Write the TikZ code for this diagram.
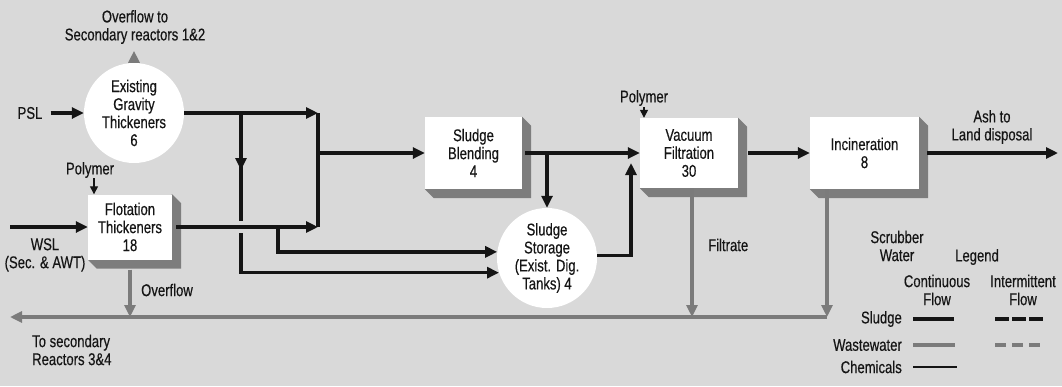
\documentclass[tikz,border=0pt]{standalone}
\usepackage{fontspec}
\setmainfont{Liberation Sans}[FakeStretch=0.77,FakeBold=0.4]
\usepackage{xcolor}
\usepackage{tikz}
\usetikzlibrary{arrows.meta,positioning,calc,backgrounds}
\definecolor{paper}{HTML}{D9D9D9}
\definecolor{wwgrey}{HTML}{7B7B7B}
\definecolor{extrude}{HTML}{7D7D7D}
\definecolor{ink}{HTML}{151515}

\begin{document}
\begin{tikzpicture}[x=1pt,y=-1pt,
  every node/.style={font=\fontsize{17}{18}\selectfont,text=ink},
  box/.style={rectangle,fill=white,align=center,inner sep=0pt},
  tank/.style={circle,fill=white,minimum size=100pt,align=center,inner sep=0pt},
  lbl/.style={align=center,inner sep=1pt},
  sl/.style={-{Triangle[length=12pt,width=11pt]},line width=3.6pt,draw=ink},
  slp/.style={line width=3.6pt,draw=ink},
  ww/.style={-{Triangle[length=12pt,width=11pt]},line width=3.6pt,draw=wwgrey},
  wwp/.style={line width=3.6pt,draw=wwgrey},
  chem/.style={-{Triangle[length=8pt,width=8pt]},line width=1.3pt,draw=ink}]
% process units
\node[tank] (grav) at (134,113) {Existing\\Gravity\\Thickeners\\6};
\node[box,minimum width=84pt,minimum height=65pt] (flot) at (130,227) {Flotation\\Thickeners\\18};
\node[box,minimum width=97pt,minimum height=72pt] (blend) at (473.5,153) {Sludge\\Blending\\4};
\node[tank] (stor) at (547,258) {Sludge\\Storage\\(Exist. Dig.\\Tanks) 4};
\node[box,minimum width=98pt,minimum height=70pt] (vac) at (689,153) {Vacuum\\Filtration\\30};
\node[box,minimum width=109pt,minimum height=72pt] (inc) at (864.5,153) {Incineration\\8};
% labels
\node[lbl] (ovtop) at (135,27) {Overflow to\\Secondary reactors 1\&2};
\node[lbl] (psl) at (30,113) {PSL};
\node[lbl] (wsl) at (45,255) {WSL\\(Sec. \& AWT)};
\node[lbl] (polyA) at (90,170) {Polymer};
\node[lbl] (polyB) at (644,98) {Polymer};
\node[lbl] (ash) at (992,127) {Ash to\\Land disposal};
\node[lbl] (ovf) at (167,290) {Overflow};
\node[lbl,anchor=west] (filt) at (707,245) {Filtrate};
\node[lbl] (scrub) at (897,246) {Scrubber\\Water};
\node[lbl,align=left,anchor=west] (tosec) at (31,350) {To secondary\\Reactors 3\&4};
% legend
\node[lbl] (leg) at (977,257) {Legend};
\node[lbl] (cont) at (937,290) {Continuous\\Flow};
\node[lbl] (inter) at (1023,290) {Intermittent\\Flow};
\node[lbl,anchor=east] (lgS) at (903,319) {Sludge};
\node[lbl,anchor=east] (lgW) at (903,345) {Wastewater};
\node[lbl,anchor=east] (lgC) at (903,367) {Chemicals};
% junctions
\coordinate (jA) at (241,113);
\coordinate (jB) at (318,113);
\coordinate (jM) at (318,153);
\coordinate (jC) at (318,227);
\coordinate (jE) at (278,227);
\coordinate (jF) at (241,233);
\coordinate (jG) at (547,153);
\coordinate (jH) at (631,163);
\coordinate (cA) at (94,178);
\coordinate (wslIn) at (10,227);
\coordinate (ashOut) at (1058,153);
\coordinate (jO) at (130,317);
\coordinate (jV) at (692,317);
\coordinate (jS) at (827,317);
\coordinate (railEnd) at (10,317);

\begin{scope}[on background layer]
\fill[paper] (0,0) rectangle (1062,386);
\foreach \n in {flot,blend,vac,inc}
  \fill[extrude] (\n.north east) -- ++(9,9) -- ($(\n.south east)+(9,9)$)
    -- ($(\n.south west)+(9,9)$) -- (\n.south west) -- cycle;
\end{scope}

% sludge
\draw[sl] (psl.east) ++(7,0) -- (grav.west);
\draw[sl] (wslIn) -- (flot.west);
\draw[sl] (grav.east) -- (jB);
\draw[slp] (jB) -- (jC);
\draw[sl] (jM) -- (blend.west);
\draw[sl] (jA) -- ++(0,57);
\draw[slp] (jA) ++(0,50) -- ++(0,58);
\draw[sl] ([xshift=4pt]flot.east) -- (jC);
\draw[sl] (jE) |- (stor.173);
\draw[sl] (jF) |- (stor.197);
\draw[sl] ([xshift=3pt]blend.east) -- (vac.west);
\draw[sl] (jG) -- (stor.north);
\draw[sl] (stor.3) -| (jH);
\draw[sl] ([xshift=10pt]vac.east) -- (inc.west);
\draw[sl] ([xshift=8pt]inc.east) -- (ashOut);
% wastewater
\draw[ww] (grav.north) -- ++(0,-12);
\draw[ww] ([yshift=-10pt]flot.south) -- (jO);
\draw[ww] (vac.south -| jV) -- (jV);
\draw[ww] (inc.south -| jS) -- (jS);
\draw[ww] (jS) -- (railEnd);
% chemicals
\draw[chem] (cA) -- (cA |- flot.north);
\draw[chem] (polyB.south) -- (polyB.south |- vac.north);
% legend keys
\draw[slp] ([xshift=10pt]lgS.east) -- ++(41,0);
\draw[slp,dash pattern=on 14pt off 3pt] ([xshift=92pt]lgS.east) -- ++(50,0);
\draw[wwp] ([xshift=10pt]lgW.east) -- ++(42,0);
\draw[wwp,dash pattern=on 11pt off 6pt] ([xshift=92pt]lgW.east) -- ++(50,0);
\draw[line width=1.2pt,draw=ink] ([xshift=10pt]lgC.east) -- ++(44,0);
\end{tikzpicture}
\end{document}
